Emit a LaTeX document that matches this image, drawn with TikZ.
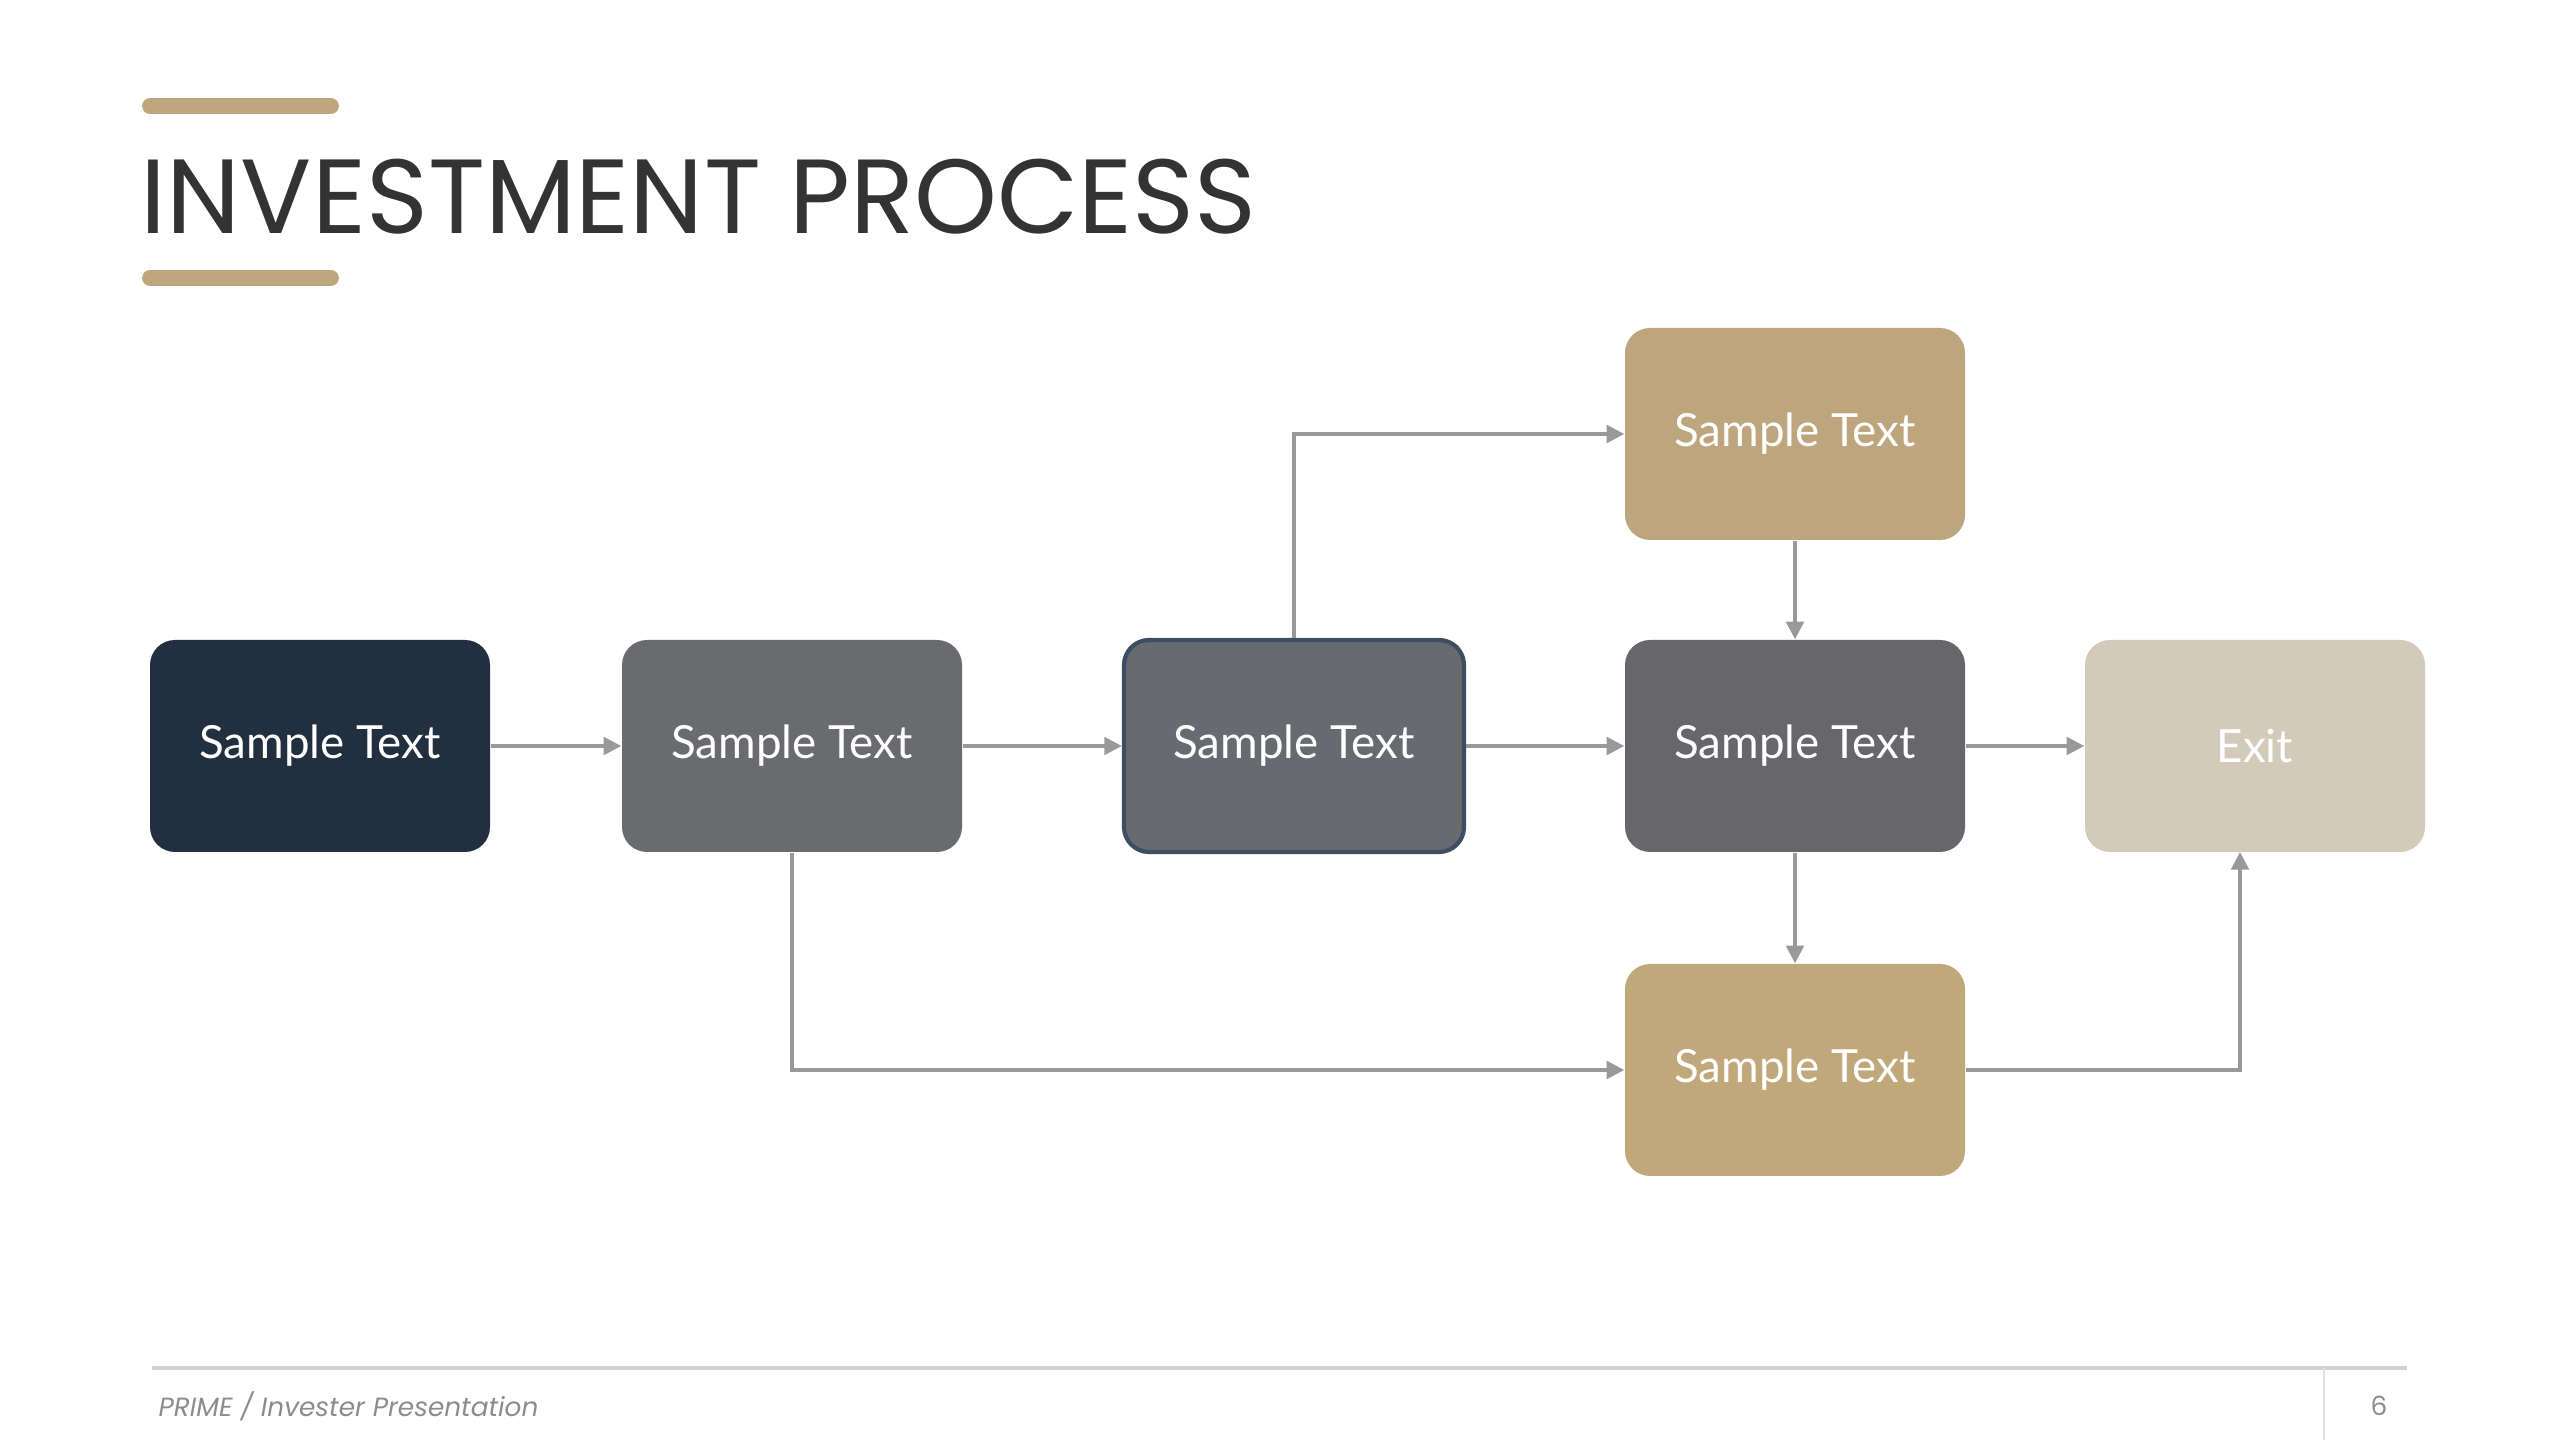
\documentclass[tikz,border=0pt]{standalone}
\usepackage{fontspec}
\setmainfont{Lato}
\newfontfamily\titlefont{Poppins}
\usetikzlibrary{arrows.meta}
\definecolor{navy}{HTML}{222F3E}
\definecolor{gB}{HTML}{6A6B6E}
\definecolor{gC}{HTML}{676A6F}
\definecolor{gCb}{HTML}{3E4E62}
\definecolor{gD}{HTML}{67676B}
\definecolor{exitc}{HTML}{D3CABA}
\definecolor{tanA}{HTML}{BDA67D}
\definecolor{tanB}{HTML}{C1A87A}
\definecolor{ttl}{HTML}{333333}
\definecolor{conn}{HTML}{999999}
\tikzset{
 box/.style={rounded corners=0.25cm, minimum width=3.4cm, minimum height=2.12cm, inner sep=0pt, text=white, font=\fontsize{13}{15}\selectfont},
 arr/.style={draw=conn, line width=0.9pt, -{Triangle[length=5pt,width=5pt]}},
 bar/.style={draw=tanA, line width=4.5pt, line cap=round},
}
\begin{document}
\begin{tikzpicture}[x=1cm,y=1cm]
\useasboundingbox (0,0) rectangle (25.6,14.4);
\draw[bar] (1.50,13.34) -- (3.31,13.34);
\draw[bar] (1.50,11.62) -- (3.31,11.62);
\node[anchor=base west, inner sep=0pt, text=ttl, font=\titlefont\fontsize{30}{34}\selectfont] (title) at (1.40,12.06) {INVESTMENT PROCESS};
\node[box, fill=navy] (a) at (3.20,6.94) {Sample Text};
\node[box, fill=gB] (b) at (7.92,6.94) {Sample Text};
\node[box, fill=gC, draw=gCb, line width=1.2pt] (c) at (12.94,6.94) {Sample Text};
\node[box, fill=gD] (d) at (17.95,6.94) {Sample Text};
\node[box, fill=exitc] (e) at (22.55,6.94) {Exit};
\node[box, fill=tanA] (t) at (17.95,10.06) {Sample Text};
\node[box, fill=tanB] (u) at (17.95,3.70) {Sample Text};
\draw[arr] (a) -- (b);
\draw[arr] (b) -- (c);
\draw[arr] (c) -- (d);
\draw[arr] (d) -- (e);
\draw[arr] (t) -- (d);
\draw[arr] (d) -- (u);
\draw[arr] (c.north) |- (t.west);
\draw[arr] (b.south) |- (u.west);
\coordinate (ex) at (22.40,5.88);
\draw[arr] (u.east) -| (ex);
\draw[draw=black!18, line width=1pt] (1.52,0.72) coordinate (fl) -- (24.07,0.72) coordinate (fr);
\draw[draw=black!12, line width=0.6pt] (23.24,0.72) coordinate (vt) -- (23.24,0) coordinate (vb);
\node[anchor=west, inner sep=0pt, text=black!45, font=\titlefont\itshape\fontsize{7.5}{9}\selectfont] (foot) at (1.58,0.34) {PRIME / Invester Presentation};
\node[inner sep=0pt, text=black!45, font=\titlefont\fontsize{7.5}{9}\selectfont] (pg) at (23.79,0.34) {6};
\end{tikzpicture}
\end{document}
